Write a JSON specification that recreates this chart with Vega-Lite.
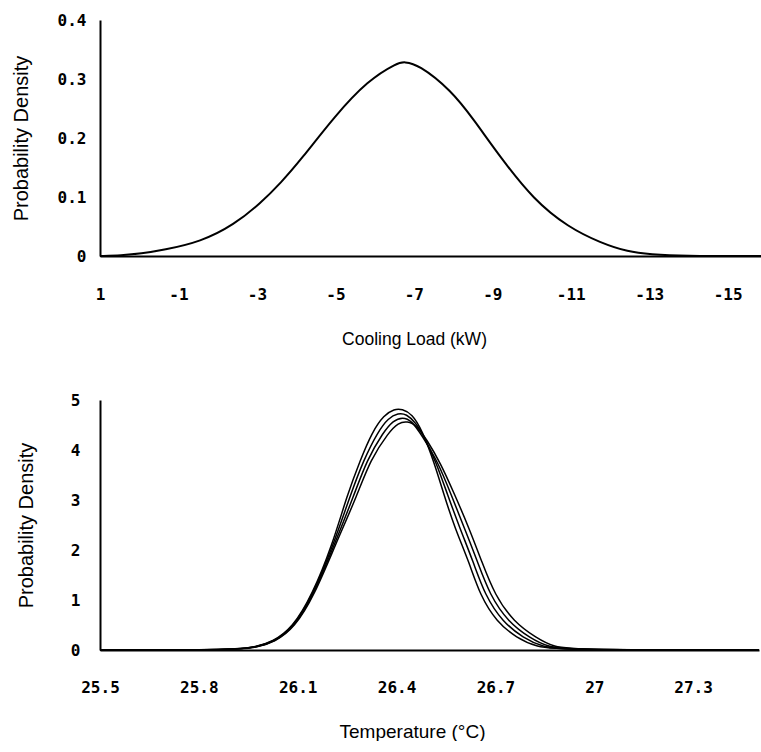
{
  "$schema": "https://vega.github.io/schema/vega-lite/v6.json",
  "background": "white",
  "padding": {"left": 11, "top": 12, "right": 0, "bottom": 0},
  "spacing": 44,
  "config": {
    "view": {"stroke": null},
    "axis": {
      "domainColor": "black", "domainWidth": 2, "grid": false, "ticks": false,
      "labelFont": "DejaVu Sans Mono", "labelFontWeight": "bold", "labelFontSize": 16, "labelColor": "black",
      "titleFont": "Liberation Sans", "titleFontWeight": "normal", "titleColor": "black",
      "labelFlush": false, "labelOverlap": false
    }
  },
  "vconcat": [
    {
      "width": 661, "height": 236,
      "data": {"values": [
        {"load": 1, "density": 0},
        {"load": 0.46, "density": 0.001},
        {"load": -0.05, "density": 0.004},
        {"load": -0.61, "density": 0.010},
        {"load": -1.57, "density": 0.024},
        {"load": -2.42, "density": 0.053},
        {"load": -3.10, "density": 0.090},
        {"load": -3.61, "density": 0.124},
        {"load": -4.12, "density": 0.163},
        {"load": -4.97, "density": 0.236},
        {"load": -5.83, "density": 0.298},
        {"load": -6.60, "density": 0.328},
        {"load": -6.75, "density": 0.329},
        {"load": -7.11, "density": 0.325},
        {"load": -7.95, "density": 0.281},
        {"load": -8.53, "density": 0.231},
        {"load": -9.22, "density": 0.166},
        {"load": -10.06, "density": 0.095},
        {"load": -10.93, "density": 0.049},
        {"load": -11.77, "density": 0.022},
        {"load": -12.46, "density": 0.007},
        {"load": -13.05, "density": 0.003},
        {"load": -13.81, "density": 0},
        {"load": -15.85, "density": 0}
      ]},
      "mark": {"type": "line", "color": "black", "strokeWidth": 2, "interpolate": "basis"},
      "encoding": {
        "x": {"field": "load", "type": "quantitative",
          "scale": {"domain": [1, -15.85], "nice": false, "zero": false},
          "axis": {"values": [1, -1, -3, -5, -7, -9, -11, -13, -15], "labelExpr": "'' + datum.value",
            "title": "Cooling Load (kW)", "labelPadding": 30, "titlePadding": 28, "titleFontSize": 17.5, "titleX": 314}},
        "y": {"field": "density", "type": "quantitative",
          "scale": {"domain": [0, 0.4], "nice": false},
          "axis": {"values": [0, 0.1, 0.2, 0.3, 0.4], "labelExpr": "'' + datum.value",
            "title": "Probability Density", "labelPadding": 14, "titlePadding": 26, "titleFontSize": 20}}
      }
    },
    {
      "width": 659, "height": 250,
      "data": {"values": [
        {"run": "A", "temp": 25.5, "density": 0},
        {"run": "A", "temp": 25.81, "density": 0},
        {"run": "A", "temp": 25.918, "density": 0.02},
        {"run": "A", "temp": 25.972, "density": 0.06},
        {"run": "A", "temp": 26.023, "density": 0.16},
        {"run": "A", "temp": 26.084, "density": 0.44},
        {"run": "A", "temp": 26.144, "density": 1.1},
        {"run": "A", "temp": 26.205, "density": 2.1},
        {"run": "A", "temp": 26.250, "density": 3.1},
        {"run": "A", "temp": 26.290, "density": 3.8},
        {"run": "A", "temp": 26.326, "density": 4.36},
        {"run": "A", "temp": 26.362, "density": 4.70},
        {"run": "A", "temp": 26.393, "density": 4.82},
        {"run": "A", "temp": 26.417, "density": 4.82},
        {"run": "A", "temp": 26.447, "density": 4.72},
        {"run": "A", "temp": 26.477, "density": 4.40},
        {"run": "A", "temp": 26.514, "density": 3.76},
        {"run": "A", "temp": 26.544, "density": 3.10},
        {"run": "A", "temp": 26.577, "density": 2.44},
        {"run": "A", "temp": 26.620, "density": 1.76},
        {"run": "A", "temp": 26.653, "density": 1.10},
        {"run": "A", "temp": 26.704, "density": 0.56},
        {"run": "A", "temp": 26.765, "density": 0.24},
        {"run": "A", "temp": 26.825, "density": 0.06},
        {"run": "A", "temp": 26.901, "density": 0},
        {"run": "A", "temp": 27.5, "density": 0},
        {"run": "B", "temp": 25.5, "density": 0},
        {"run": "B", "temp": 25.82, "density": 0},
        {"run": "B", "temp": 25.92, "density": 0.02},
        {"run": "B", "temp": 25.974, "density": 0.06},
        {"run": "B", "temp": 26.026, "density": 0.16},
        {"run": "B", "temp": 26.086, "density": 0.44},
        {"run": "B", "temp": 26.146, "density": 1.1},
        {"run": "B", "temp": 26.208, "density": 2.1},
        {"run": "B", "temp": 26.260, "density": 3.1},
        {"run": "B", "temp": 26.300, "density": 3.8},
        {"run": "B", "temp": 26.343, "density": 4.36},
        {"run": "B", "temp": 26.375, "density": 4.64},
        {"run": "B", "temp": 26.405, "density": 4.74},
        {"run": "B", "temp": 26.430, "density": 4.72},
        {"run": "B", "temp": 26.458, "density": 4.55},
        {"run": "B", "temp": 26.485, "density": 4.25},
        {"run": "B", "temp": 26.520, "density": 3.76},
        {"run": "B", "temp": 26.555, "density": 3.10},
        {"run": "B", "temp": 26.592, "density": 2.44},
        {"run": "B", "temp": 26.633, "density": 1.76},
        {"run": "B", "temp": 26.668, "density": 1.10},
        {"run": "B", "temp": 26.722, "density": 0.56},
        {"run": "B", "temp": 26.785, "density": 0.24},
        {"run": "B", "temp": 26.843, "density": 0.06},
        {"run": "B", "temp": 26.915, "density": 0},
        {"run": "B", "temp": 27.5, "density": 0},
        {"run": "C", "temp": 25.5, "density": 0},
        {"run": "C", "temp": 25.83, "density": 0},
        {"run": "C", "temp": 25.926, "density": 0.02},
        {"run": "C", "temp": 25.976, "density": 0.06},
        {"run": "C", "temp": 26.028, "density": 0.16},
        {"run": "C", "temp": 26.088, "density": 0.44},
        {"run": "C", "temp": 26.148, "density": 1.1},
        {"run": "C", "temp": 26.211, "density": 2.1},
        {"run": "C", "temp": 26.271, "density": 3.1},
        {"run": "C", "temp": 26.310, "density": 3.8},
        {"run": "C", "temp": 26.360, "density": 4.36},
        {"run": "C", "temp": 26.390, "density": 4.59},
        {"run": "C", "temp": 26.418, "density": 4.66},
        {"run": "C", "temp": 26.446, "density": 4.59},
        {"run": "C", "temp": 26.476, "density": 4.30},
        {"run": "C", "temp": 26.526, "density": 3.76},
        {"run": "C", "temp": 26.566, "density": 3.10},
        {"run": "C", "temp": 26.606, "density": 2.44},
        {"run": "C", "temp": 26.646, "density": 1.76},
        {"run": "C", "temp": 26.683, "density": 1.10},
        {"run": "C", "temp": 26.739, "density": 0.56},
        {"run": "C", "temp": 26.805, "density": 0.24},
        {"run": "C", "temp": 26.860, "density": 0.06},
        {"run": "C", "temp": 26.930, "density": 0},
        {"run": "C", "temp": 27.5, "density": 0},
        {"run": "D", "temp": 25.5, "density": 0},
        {"run": "D", "temp": 25.842, "density": 0},
        {"run": "D", "temp": 25.933, "density": 0.02},
        {"run": "D", "temp": 25.978, "density": 0.06},
        {"run": "D", "temp": 26.030, "density": 0.16},
        {"run": "D", "temp": 26.090, "density": 0.44},
        {"run": "D", "temp": 26.151, "density": 1.1},
        {"run": "D", "temp": 26.214, "density": 2.1},
        {"run": "D", "temp": 26.281, "density": 3.1},
        {"run": "D", "temp": 26.320, "density": 3.8},
        {"run": "D", "temp": 26.377, "density": 4.36},
        {"run": "D", "temp": 26.405, "density": 4.54},
        {"run": "D", "temp": 26.432, "density": 4.58},
        {"run": "D", "temp": 26.462, "density": 4.49},
        {"run": "D", "temp": 26.492, "density": 4.20},
        {"run": "D", "temp": 26.532, "density": 3.76},
        {"run": "D", "temp": 26.577, "density": 3.10},
        {"run": "D", "temp": 26.620, "density": 2.44},
        {"run": "D", "temp": 26.659, "density": 1.76},
        {"run": "D", "temp": 26.698, "density": 1.10},
        {"run": "D", "temp": 26.756, "density": 0.56},
        {"run": "D", "temp": 26.825, "density": 0.24},
        {"run": "D", "temp": 26.877, "density": 0.06},
        {"run": "D", "temp": 26.946, "density": 0},
        {"run": "D", "temp": 27.5, "density": 0}
      ]},
      "mark": {"type": "line", "color": "black", "strokeWidth": 1.5, "interpolate": "basis"},
      "encoding": {
        "detail": {"field": "run", "type": "nominal"},
        "x": {"field": "temp", "type": "quantitative",
          "scale": {"domain": [25.5, 27.5], "nice": false, "zero": false},
          "axis": {"values": [25.5, 25.8, 26.1, 26.4, 26.7, 27, 27.3], "labelExpr": "'' + datum.value",
            "title": "Temperature (°C)", "labelPadding": 29, "titlePadding": 27, "titleFontSize": 19, "titleX": 312}},
        "y": {"field": "density", "type": "quantitative",
          "scale": {"domain": [0, 5], "nice": false},
          "axis": {"values": [0, 1, 2, 3, 4, 5], "labelExpr": "'' + datum.value",
            "title": "Probability Density", "labelPadding": 20, "titlePadding": 34, "titleFontSize": 20}}
      }
    }
  ]
}
